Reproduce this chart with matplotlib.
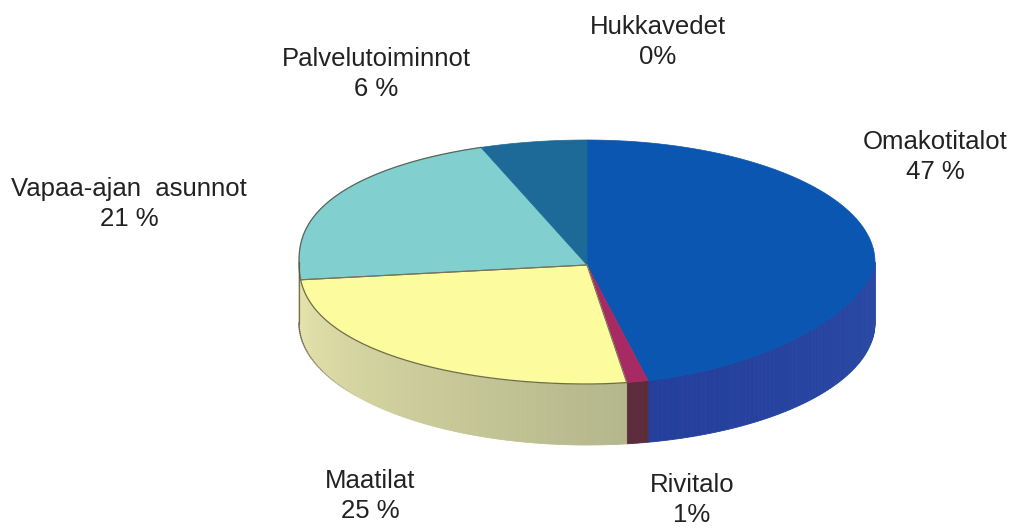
import numpy as np
import matplotlib
matplotlib.use("Agg")
import matplotlib.pyplot as plt
from matplotlib.patches import Polygon
from matplotlib.colors import to_rgb

plt.rcParams['font.family'] = ['Liberation Sans', 'DejaVu Sans']

# shares clockwise from 12 o'clock
names = ['Omakotitalot', 'Rivitalo', 'Maatilat', 'Vapaa-ajan  asunnot', 'Palvelutoiminnot', 'Hukkavedet']
values = [46.6, 1.2, 25.5, 20.7, 6.0, 0.0]
pct_labels = ['47 %', '1%', '25 %', '21 %', '6 %', '0%']

top_colors = ['#0a56b0', '#a82a62', '#fcfb9e', '#82cfcf', '#1d6a98', '#ffffff']
side_left = ['#243f9c', '#5a2c3c', '#e6e3ab', '#e6e3ab', '#154d70', '#ffffff']
side_right = ['#2a4aa4', '#5a2c3c', '#b4b78c', '#e6e3ab', '#154d70', '#ffffff']

label_pos = [(935, 157), (692, 500), (370, 496), (129, 204), (376, 74), (658, 42)]

# pie geometry in pixels
cx, cy = 587, 262
rx, ry = 288, 122
apex_y = 265
depth = 61


def rim_plain(deg):
    t = np.radians(deg)
    return cx + rx*np.sin(t), cy - ry*np.cos(t)


def rim(deg):
    # the scanned pie is not a clean ellipse: fatter on the left, flatter lower right
    t = np.radians(np.asarray(deg, dtype=float))
    s, c = np.sin(t), np.cos(t)
    p = np.where(s < 0, 0.86, np.where(c < 0, 1.25, 1.0))
    return cx + rx*s, cy - ry*np.sign(c)*np.abs(c)**p


fig = plt.figure(figsize=(10.14, 5.28), dpi=100)
ax = fig.add_axes([0, 0, 1, 1])
ax.set_xlim(0, 1014)
ax.set_ylim(528, 0)
ax.axis('off')

edges = np.cumsum([0] + values) * 3.6

# side walls first, only the front half shows
for i in range(len(values)):
    a = max(edges[i], 90)
    b = min(edges[i+1], 270)
    if b <= a or values[i] == 0:
        continue
    steps = np.linspace(a, b, max(2, int((b-a))) + 1)
    c0 = np.array(to_rgb(side_right[i]))
    c1 = np.array(to_rgb(side_left[i]))
    for s0, s1 in zip(steps[:-1], steps[1:]):
        x0, y0 = rim(s0)
        x1, y1 = rim(s1)
        bx0, by0 = rim_plain(s0)
        bx1, by1 = rim_plain(s1)
        f = (s0 - a)/(b - a)
        col = c0 + (c1 - c0)*f
        ax.add_patch(Polygon([(x0, y0), (x1, y1), (bx1, by1+depth), (bx0, by0+depth)],
                             closed=True, fc=col, ec=col, lw=0.6))

# top face
for i in range(len(values)):
    if values[i] == 0:
        continue
    arc = np.linspace(edges[i], edges[i+1], 200)
    x, y = rim(arc)
    xy = np.column_stack([np.r_[cx, x], np.r_[apex_y, y]])
    ax.add_patch(Polygon(xy, closed=True, fc=top_colors[i], ec=top_colors[i], lw=0.5))

# dark thin outline around the light slices
for i in [2, 3]:
    arc = np.linspace(edges[i], edges[i+1], 200)
    x, y = rim(arc)
    ax.plot(x, y, color='#4a4a3a', lw=0.9, alpha=0.8)
    ax.plot([cx, x[0]], [apex_y, y[0]], color='#77745a', lw=0.8)
x, y = rim(edges[3])
ax.plot([cx, x], [apex_y, y], color='#77745a', lw=0.8)

# left edge of the wall and its lower curve, fading out along the bottom
arc = np.linspace(232, 270, 40)
bx, by = rim_plain(arc)
for j in range(len(arc)-1):
    ax.plot(bx[j:j+2], by[j:j+2] + depth, color='#55554a', lw=0.9, alpha=0.8*j/(len(arc)-2))
ax.plot([bx[-1], bx[-1]], [by[-1], by[-1] + depth], color='#55554a', lw=0.9, alpha=0.8)

for name, pct, pos in zip(names, pct_labels, label_pos):
    ax.text(pos[0], pos[1], name + '\n' + pct, ha='center', va='center',
            fontsize=18.5, color='#222222', linespacing=1.3)

fig.savefig('out.png', dpi=100)
